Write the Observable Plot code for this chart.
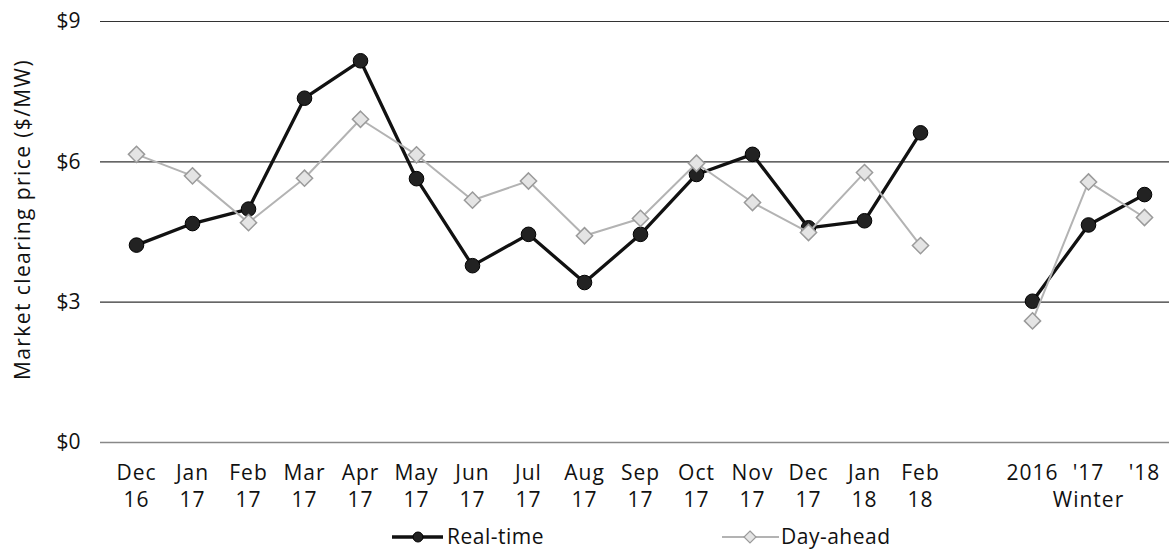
<!DOCTYPE html>
<html>
<head>
<meta charset="utf-8">
<script src="https://cdn.jsdelivr.net/npm/d3@7"></script>
<script src="https://cdn.jsdelivr.net/npm/@observablehq/plot@0.6"></script>
<style>
  body { margin: 0; background: #fff; }
  #wrap { position: relative; width: 1169px; height: 550px; font-family: "Open Sans", sans-serif; color: #111; }
  #legend { position: absolute; left: 0; top: 0; width: 1169px; height: 550px; pointer-events: none; }
  .lt { position: absolute; font-size: 21px; line-height: 1; transform: translateY(-50%); white-space: nowrap; letter-spacing: 0.5px; }
  g[aria-label="text"] text { letter-spacing: 1.4px; }
  g[aria-label="x-axis tick label"] text { letter-spacing: 1px; }
</style>
</head>
<body>
<div id="wrap"></div>
<script>
// Categories (x), with one empty slot separating the monthly and winter groups
const categories = ["Dec\n16","Jan\n17","Feb\n17","Mar\n17","Apr\n17","May\n17","Jun\n17","Jul\n17","Aug\n17","Sep\n17","Oct\n17","Nov\n17","Dec\n17","Jan\n18","Feb\n18","","2016","'17\nWinter","'18"];
// Real-time market clearing price ($/MW)
const realTime = [4.22,4.68,4.99,7.36,8.16,5.64,3.78,4.45,3.42,4.45,5.73,6.16,4.59,4.74,6.62,null,3.02,4.65,5.30];
// Day-ahead market clearing price ($/MW)
const dayAhead = [6.16,5.70,4.70,5.65,6.91,6.15,5.18,5.59,4.42,4.79,5.97,5.13,4.49,5.77,4.21,null,2.60,5.57,4.81];
// Y ticks
const yTicks = [0,3,6,9];
const yTickLabels = ["$0","$3","$6","$9"];
const yTitle = "Market clearing price ($/MW)";
const seriesNames = ["Real-time","Day-ahead"];

const table = categories.map((c,i) => ({cat: c, rt: realTime[i], da: dayAhead[i]}));

const chart = Plot.plot({
  width: 1169,
  height: 550,
  marginLeft: 100,
  marginRight: 0,
  marginTop: 21,
  marginBottom: 108,
  style: {fontFamily: "Open Sans, sans-serif", fontSize: "21px", color: "#111", background: "#fff", overflow: "visible"},
  x: {type: "point", domain: categories, range: [102.75, 1176.25], padding: 0.5},
  y: {domain: [0, 9], ticks: yTicks},
  marks: [
    Plot.ruleY(yTicks.filter(d => d > 0), {stroke: "#333", strokeWidth: 1.2}),
    Plot.ruleY([0], {stroke: "#888", strokeWidth: 1.5}),
    Plot.axisY({ticks: yTicks, tickSize: 0, tickPadding: 20, tickFormat: d => yTickLabels[yTicks.indexOf(d)],
      label: null, fill: "#111"}),
    Plot.text([yTitle], {frameAnchor: "left", textAnchor: "middle", lineAnchor: "middle", rotate: -90, dx: -77.5, dy: -12.5, fill: "#111", fontSize: 21}),
    Plot.axisX({tickSize: 0, tickPadding: 19, tickFormat: d => d, label: null, lineHeight: 1.27, fill: "#111"}),
    Plot.line(table, {x: "cat", y: "rt", stroke: "#111", strokeWidth: 3.3}),
    Plot.dot(table, {x: "cat", y: "rt", r: 7.3, fill: "#222", stroke: "#000", strokeWidth: 1}),
    Plot.line(table, {x: "cat", y: "da", stroke: "#b3b3b3", strokeWidth: 2}),
    Plot.dot(table, {x: "cat", y: "da", r: 7.3, symbol: "diamond2", fill: "#e4e4e4", stroke: "#9a9a9a", strokeWidth: 1.5})
  ]
});

const wrap = document.getElementById("wrap");
wrap.appendChild(chart);

// Legend below the chart
const leg = document.createElement("div");
leg.id = "legend";
leg.innerHTML = `
<svg width="1169" height="550" style="position:absolute;left:0;top:0">
  <line x1="392" x2="443" y1="537" y2="537" stroke="#111" stroke-width="3.5"/>
  <circle cx="418" cy="537" r="5" fill="#222" stroke="#000"/>
  <line x1="722" x2="779" y1="537" y2="537" stroke="#b3b3b3" stroke-width="2"/>
  <path d="M750,531 L756,537 L750,543 L744,537 Z" fill="#e4e4e4" stroke="#9a9a9a" stroke-width="1.2"/>
</svg>
<div class="lt" style="left:447px;top:536px">${seriesNames[0]}</div>
<div class="lt" style="left:781px;top:536px">${seriesNames[1]}</div>`;
wrap.appendChild(leg);
</script>
</body>
</html>
